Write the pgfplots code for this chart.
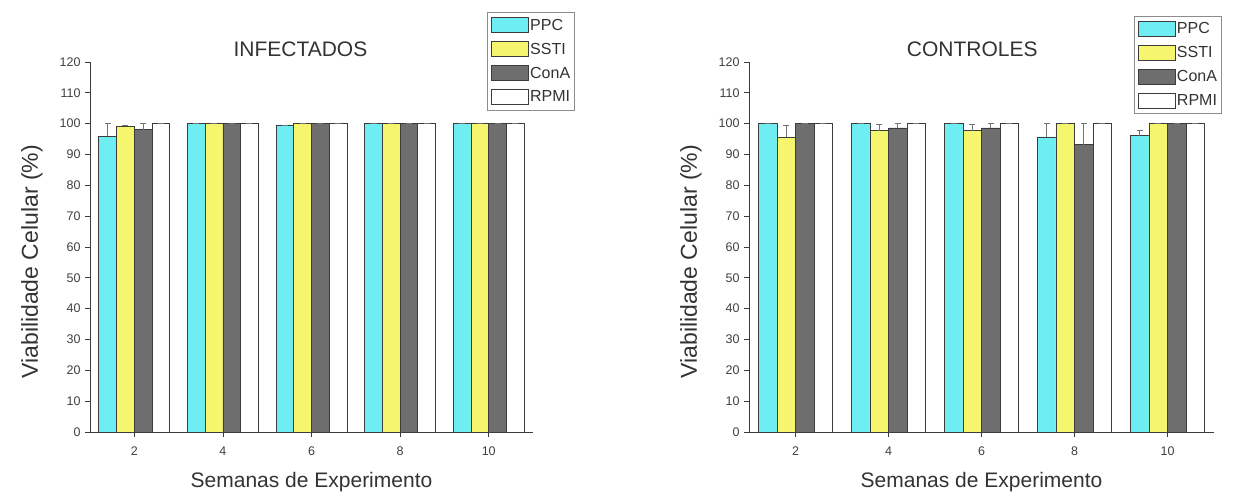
\documentclass[border=0pt]{standalone}
\usepackage{pgfplots}
\pgfplotsset{compat=1.18}
\usepackage{fontspec}
\setmainfont{Liberation Sans}

\definecolor{ppc}{RGB}{110,238,242}
\definecolor{ssti}{RGB}{246,246,110}
\definecolor{cona}{RGB}{110,110,110}
\definecolor{rpmi}{RGB}{255,255,255}
\definecolor{edge}{RGB}{60,60,60}

\pgfplotsset{
  viab/.style={
    scale only axis,
    height=370pt,
    xmin=1, xmax=11, ymin=0, ymax=120,
    axis lines*=left,
    axis line style={draw=edge, line width=0.9pt},
    xtick={2,4,6,8,10},
    ytick={0,10,...,120},
    tick align=outside,
    tick style={draw=edge, line width=0.8pt},
    major tick length=5pt,
    tick label style={font=\fontsize{12.5}{13}\selectfont, text=black!75},
    /pgf/number format/assume math mode=true,
    xticklabel style={yshift=-6pt},
    yticklabel style={xshift=-1pt},
    xlabel={Semanas de Experimento},
    ylabel={Viabilidade Celular (\%)},
    label style={text=black!80},
    xlabel style={font=\fontsize{21}{24}\selectfont, at={(axis description cs:0.5,0)}, anchor=center, yshift=-50pt},
    ylabel style={font=\fontsize{23}{26}\selectfont, at={(axis description cs:0,0.46)}, anchor=center, yshift=58pt},
    title style={font=\fontsize{21}{24}\selectfont, text=black!80, anchor=center},
    ybar,
    bar width=0.4,
    every axis plot/.append style={draw=edge, line width=0.8pt},
    error bars/y dir=plus,
    error bars/y explicit,
    error bars/error bar style={draw=black!55, line width=0.7pt},
    error bars/error mark options={rotate=90, mark size=3pt, draw=black!55, line width=0.7pt},
    legend cell align=left,
    legend image code/.code={\draw[#1, line width=0.9pt] (0pt,-7.5pt) rectangle (37pt,7.5pt);},
    legend style={draw=black!45, line width=0.8pt, fill=white,
      font=\fontsize{16}{17}\selectfont, text=black!80,
      row sep=8pt, inner xsep=3pt, inner ysep=5pt,
      nodes={inner sep=1.5pt}},
  },
}

% viability (%) per stimulus, with upper error
\pgfplotstableread{
week PPC ePPC SSTI eSSTI ConA eConA RPMI eRPMI
2    96.0 4.0 99.2 0.4 98.0 2.0 100 0
4    100  0   100  0   100  0   100 0
6    99.6 0   100  0   100  0   100 0
8    100  0   100  0   100  0   100 0
10   100  0   100  0   100  0   100 0
}\infectados

\pgfplotstableread{
week PPC ePPC SSTI eSSTI ConA eConA RPMI eRPMI
2    100  0   95.7 3.7 100  0   100 0
4    100  0   97.7 2.0 98.6 1.4 100 0
6    100  0   97.7 2.0 98.6 1.4 100 0
8    95.7 4.3 100  0   93.2 6.8 100 0
10   96.1 1.7 100  0   100  0   100 0
}\controles

\begin{document}
\begin{tikzpicture}
\useasboundingbox (0,0) rectangle (1246pt,496pt);

\begin{axis}[viab, width=443pt, at={(90pt,64pt)}, anchor=south west,
  title={INFECTADOS}, title style={at={(0.475,1.018)}},
  legend style={at={(1.095,1.135)}, anchor=north east}]
  \addplot[fill=ppc, bar shift=-0.6] table[x=week, y=PPC, y error=ePPC] {\infectados};
  \addplot[fill=ssti, bar shift=-0.2] table[x=week, y=SSTI, y error=eSSTI] {\infectados};
  \addplot[fill=cona, bar shift=0.2] table[x=week, y=ConA, y error=eConA] {\infectados};
  \addplot[fill=rpmi, bar shift=0.6] table[x=week, y=RPMI, y error=eRPMI] {\infectados};
  \legend{PPC, SSTI, ConA, RPMI}
\end{axis}

\begin{axis}[viab, width=465pt, at={(749pt,64pt)}, anchor=south west,
  title={CONTROLES}, title style={at={(0.48,1.018)}},
  legend style={at={(1.017,1.125)}, anchor=north east}]
  \addplot[fill=ppc, bar shift=-0.6] table[x=week, y=PPC, y error=ePPC] {\controles};
  \addplot[fill=ssti, bar shift=-0.2] table[x=week, y=SSTI, y error=eSSTI] {\controles};
  \addplot[fill=cona, bar shift=0.2] table[x=week, y=ConA, y error=eConA] {\controles};
  \addplot[fill=rpmi, bar shift=0.6] table[x=week, y=RPMI, y error=eRPMI] {\controles};
  \legend{PPC, SSTI, ConA, RPMI}
\end{axis}
\end{tikzpicture}
\end{document}
